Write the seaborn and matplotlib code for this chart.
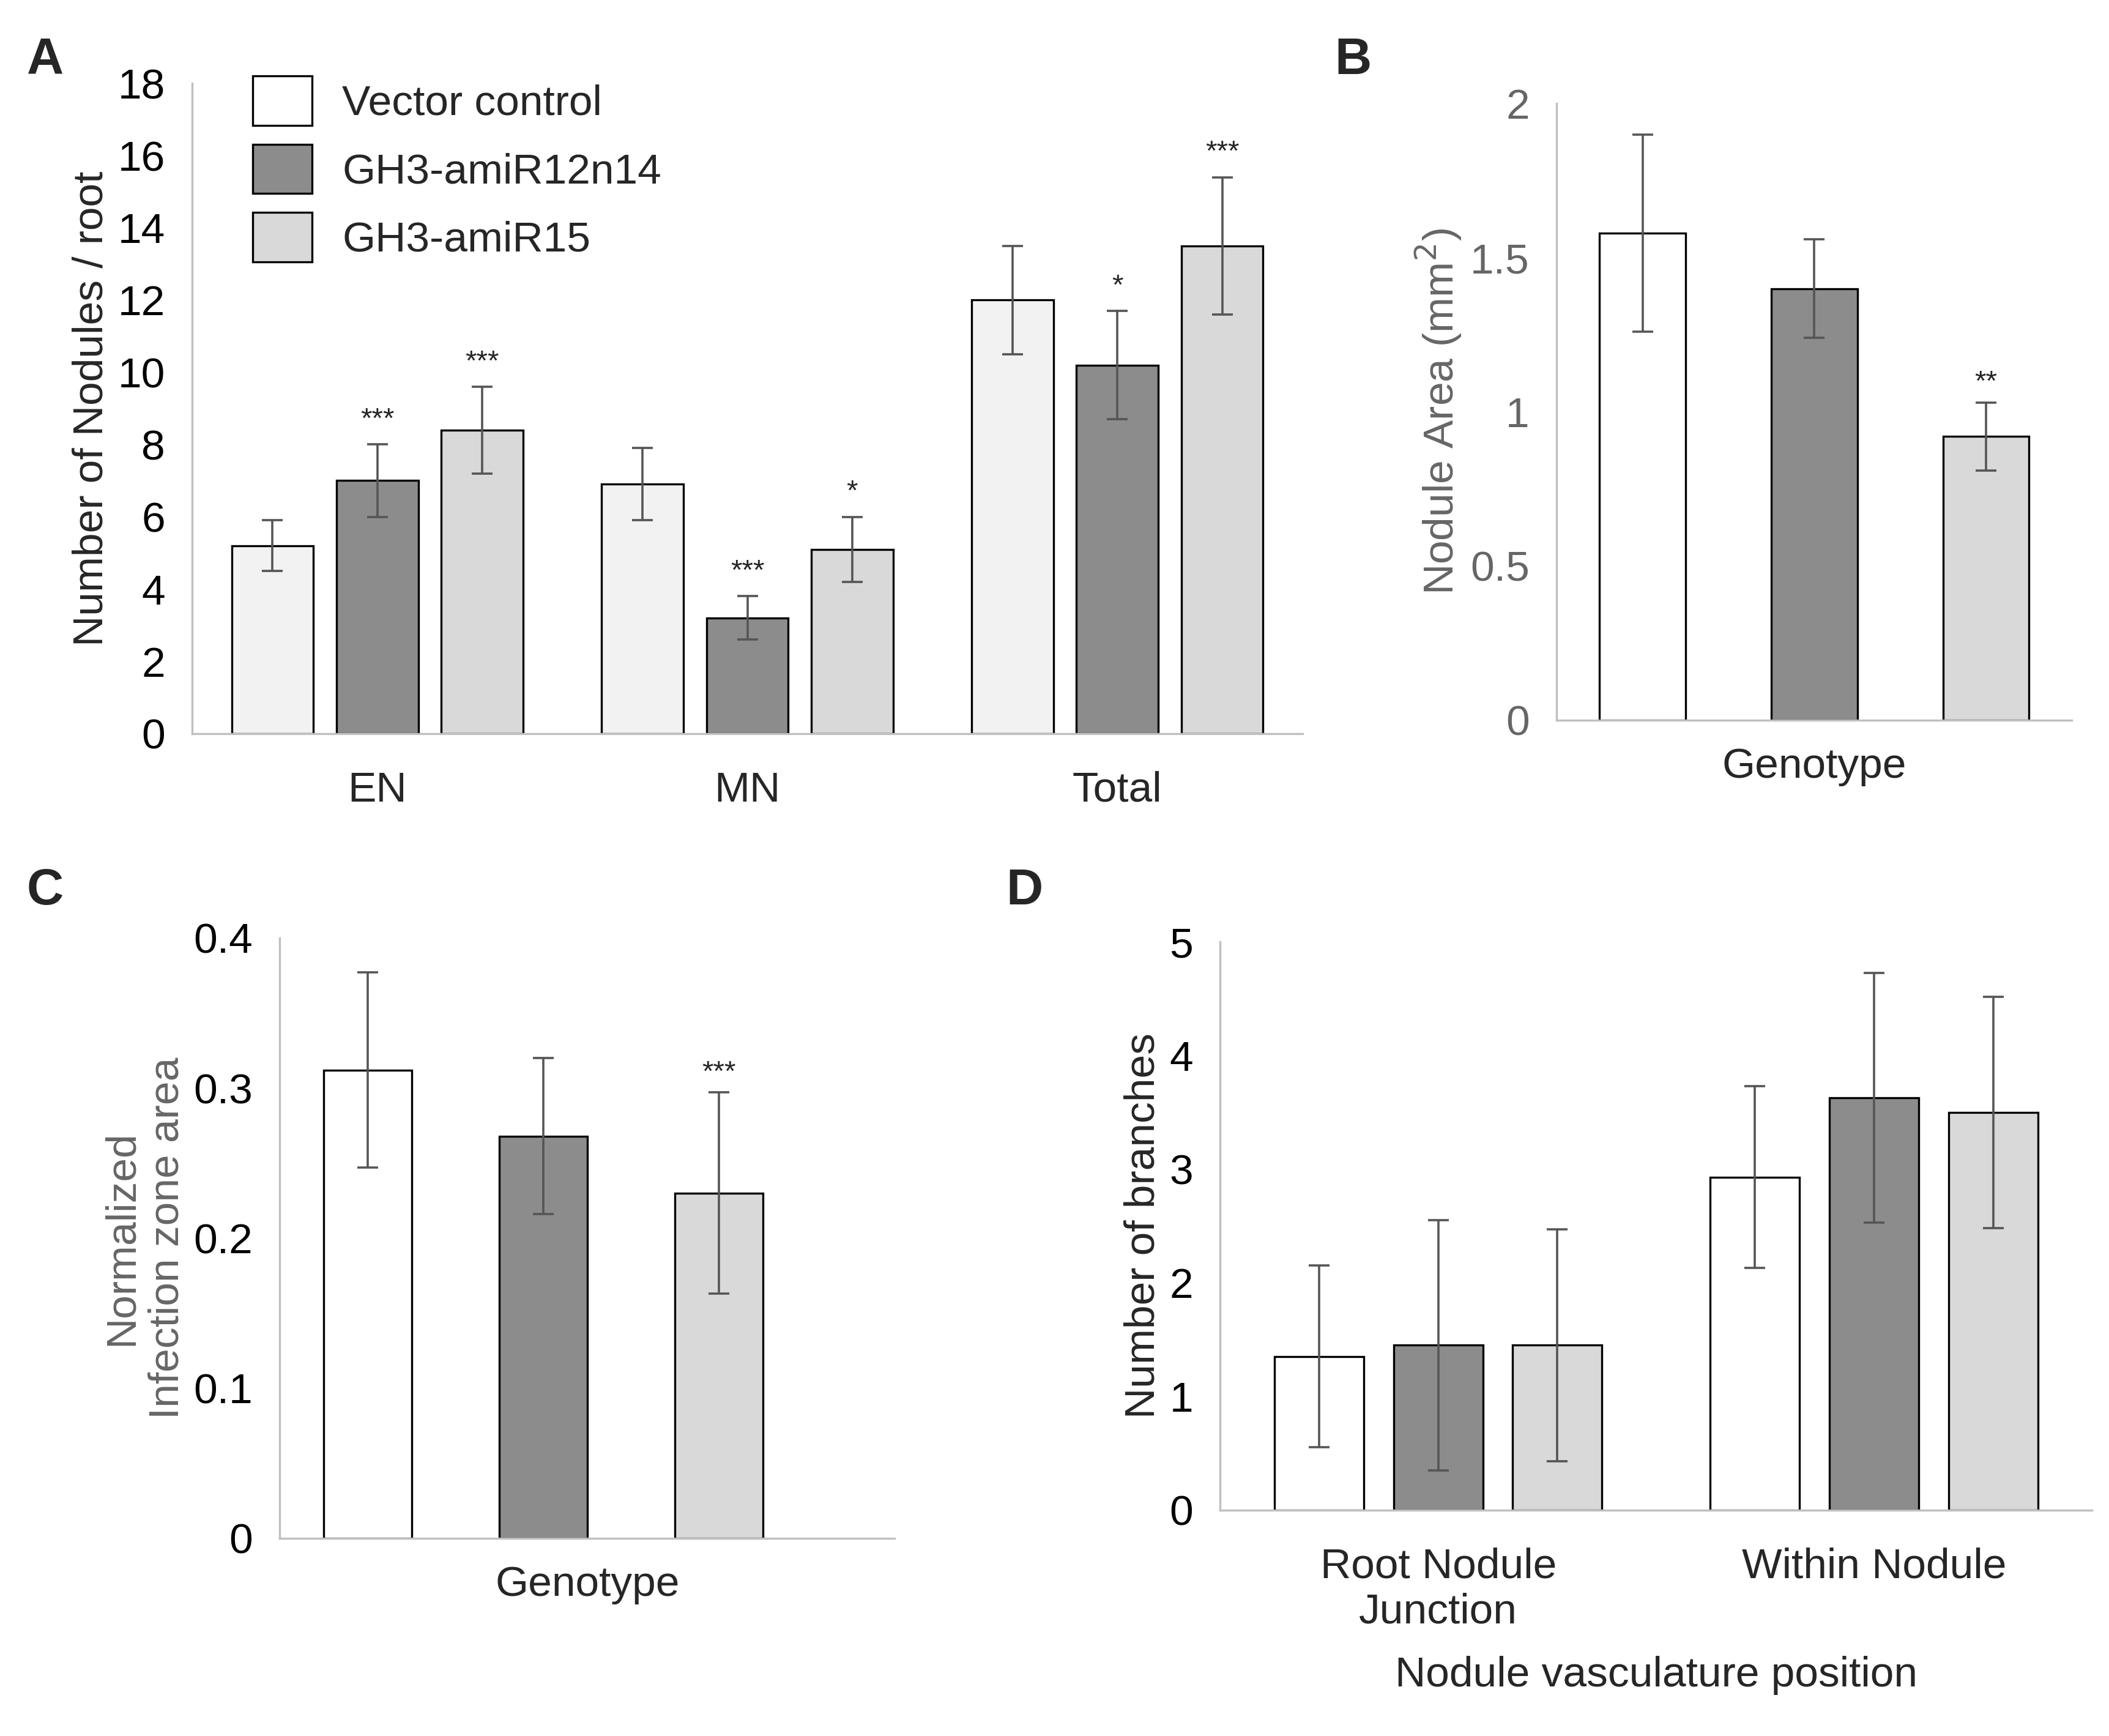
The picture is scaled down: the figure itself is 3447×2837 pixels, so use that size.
import pandas as pd
import matplotlib.pyplot as plt
import seaborn as sns
from matplotlib.patches import Patch

# ---- data ----
genotypes = ['Vector control', 'GH3-amiR12n14', 'GH3-amiR15']

a_groups = ['EN', 'MN', 'Total']
a_means = [[5.2, 7.0, 8.4], [6.9, 3.2, 5.1], [12.0, 10.2, 13.5]]
a_errs = [[0.7, 1.0, 1.2], [1.0, 0.6, 0.9], [1.5, 1.5, 1.9]]
a_stars = [['', '***', '***'], ['', '***', '*'], ['', '*', '***']]

b_means = [1.58, 1.40, 0.92]
b_errs = [0.32, 0.16, 0.11]
b_stars = ['', '', '**']

c_means = [0.312, 0.268, 0.230]
c_errs = [0.065, 0.052, 0.067]
c_stars = ['', '', '***']

d_groups = ['Root Nodule\nJunction', 'Within Nodule']
d_means = [[1.35, 1.45, 1.45], [2.93, 3.63, 3.50]]
d_errs = [[0.80, 1.10, 1.02], [0.80, 1.10, 1.02]]

sns.set_style('white')
plt.rcParams['font.family'] = ['Liberation Sans', 'DejaVu Sans']
FS = 25

W, H = 1568, 1290
fig = plt.figure(figsize=(17.24, 14.185), dpi=200)


def make_ax(x0, y0, x1, y1):
    return fig.add_axes([x0 / W, 1 - y1 / H, (x1 - x0) / W, (y1 - y0) / H])


def style(ax, gray=False, xpad=14):
    sns.despine(ax=ax)
    for s in ['left', 'bottom']:
        ax.spines[s].set_color('#bfbfbf')
        ax.spines[s].set_linewidth(1.2)
    col = '#666666' if gray else 'black'
    ax.tick_params(axis='y', labelsize=FS, colors=col, length=0, pad=16)
    ax.tick_params(axis='x', labelsize=FS, length=0, pad=xpad)


def grouped(ax, groups, means, errs, palette, width, gap, stars=None, star_off=0):
    rows = []
    for g, ms in zip(groups, means):
        for gt, m in zip(genotypes, ms):
            rows.append({'group': g, 'genotype': gt, 'value': m})
    df = pd.DataFrame(rows)
    sns.barplot(data=df, x='group', y='value', hue='genotype', hue_order=genotypes,
                palette=palette, edgecolor='black', linewidth=1.2, errorbar=None,
                width=width, gap=gap, ax=ax, legend=False)
    bars = [p for p in ax.patches if p.get_height() > 0]
    bars = sorted(bars, key=lambda p: p.get_x())
    flat_m = [m for ms in means for m in ms]
    flat_e = [e for es in errs for e in es]
    flat_s = [s for ss in stars for s in ss] if stars else [''] * len(flat_m)
    for p, m, e, s in zip(bars, flat_m, flat_e, flat_s):
        xc = p.get_x() + p.get_width() / 2
        ax.errorbar(xc, m, yerr=e, color='#555555', capsize=6, lw=1.3, capthick=1.3)
        if s:
            ax.text(xc, m + e + star_off, s, ha='center', va='bottom', fontsize=17)
    ax.set_xlabel('')


def single(ax, means, errs, palette, stars, star_off):
    df = pd.DataFrame({'genotype': genotypes, 'value': means})
    sns.barplot(data=df, x='genotype', y='value', hue='genotype', palette=palette,
                edgecolor='black', linewidth=1.2, width=0.5, errorbar=None, ax=ax, legend=False)
    for i, (m, e, s) in enumerate(zip(means, errs, stars)):
        ax.errorbar(i, m, yerr=e, color='#555555', capsize=6, lw=1.3, capthick=1.3)
        if s:
            ax.text(i, m + e + star_off, s, ha='center', va='bottom', fontsize=17)
    ax.set_xticks([])
    ax.set_xlabel('Genotype', fontsize=FS, labelpad=16)


pal_a = ['#f2f2f2', '#8c8c8c', '#d9d9d9']
pal = ['#ffffff', '#8c8c8c', '#d9d9d9']

# Panel A
axA = make_ax(143, 62, 968, 545)
grouped(axA, a_groups, a_means, a_errs, pal_a, 0.85, 0.22, a_stars, star_off=0.3)
axA.set_ylim(0, 18)
axA.set_yticks(range(0, 19, 2))
axA.set_xlim(-0.5, 2.5)
axA.set_ylabel('Number of Nodules / root', fontsize=FS)
style(axA, xpad=22)
handles = [Patch(facecolor=c, edgecolor='black', linewidth=1.2) for c in pal]
axA.legend(handles, genotypes, loc='upper left', bbox_to_anchor=(0.02, 1.07), frameon=False,
           fontsize=FS, handlelength=1.4, handleheight=1.4, labelspacing=0.45, handletextpad=0.7)
fig.text(20 / W, 1 - 45 / H, 'A', fontsize=30, fontweight='bold', va='center')

# Panel B
axB = make_ax(1157, 77, 1540, 535)
single(axB, b_means, b_errs, pal, b_stars, 0.02)
axB.set_ylim(0, 2)
axB.set_yticks([0, 0.5, 1, 1.5, 2])
axB.set_yticklabels(['0', '0.5', '1', '1.5', '2'])
axB.set_xlim(-0.5, 2.5)
axB.set_ylabel('Nodule Area (mm$^2$)', fontsize=FS, color='#666666')
style(axB, gray=True)
fig.text(992 / W, 1 - 45 / H, 'B', fontsize=30, fontweight='bold', va='center')

# Panel C
axC = make_ax(208, 697, 665, 1143)
single(axC, c_means, c_errs, pal, c_stars, 0.004)
axC.set_ylim(0, 0.4)
axC.set_yticks([0, 0.1, 0.2, 0.3, 0.4])
axC.set_yticklabels(['0', '0.1', '0.2', '0.3', '0.4'])
axC.set_xlim(-0.5, 3.0)
axC.set_ylabel('Normalized\nInfection zone area', fontsize=FS, color='#666666')
style(axC)
fig.text(20 / W, 1 - 662 / H, 'C', fontsize=30, fontweight='bold', va='center')

# Panel D
axD = make_ax(907, 700, 1555, 1122)
grouped(axD, d_groups, d_means, d_errs, pal, 0.82, 0.25)
axD.set_ylim(0, 5)
axD.set_yticks(range(0, 6))
axD.set_xlim(-0.5, 1.5)
axD.set_ylabel('Number of branches', fontsize=FS)
axD.set_xlabel('Nodule vasculature position', fontsize=FS, labelpad=14)
style(axD, xpad=22)
fig.text(748 / W, 1 - 662 / H, 'D', fontsize=30, fontweight='bold', va='center')

fig.savefig('out.png', dpi=200)
